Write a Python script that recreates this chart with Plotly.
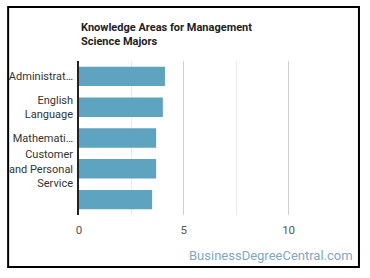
import plotly.graph_objects as go

categories = ["Administrative", "English Language", "Mathematics",
              "Customer and Personal Service", "Other"]
tick_labels = ["Administrat…", "English<br>Language", "Mathemati…",
               "Customer<br>and Personal<br>Service", ""]
values = [4.1, 4.0, 3.68, 3.68, 3.49]

W, H = 370, 278
L, R, T, B = 79, 341.5, 61, 215
pw, ph = R - L, B - T

def px(x):
    return (x - L) / pw

def py(y):
    return (B - y) / ph

fig = go.Figure(go.Bar(
    x=values, y=categories, orientation="h",
    marker=dict(color="#5ea3bf", line=dict(width=0)),
    width=0.63, hoverinfo="skip",
))

fig.update_layout(
    width=W, height=H,
    margin=dict(l=L, r=W - R, t=T, b=H - B, pad=0),
    paper_bgcolor="white", plot_bgcolor="white",
    font=dict(family="Roboto", size=12, color="#333333"),
    showlegend=False,
    xaxis=dict(range=[0, 12.5], tickvals=[0, 5, 10], ticktext=["0", "5", "10"],
               showgrid=True, gridcolor="#d0d0d0", gridwidth=1,
               minor=dict(tickvals=[2.5, 7.5], showgrid=True, gridcolor="#ebebeb", gridwidth=1),
               zeroline=False, showline=False, ticks="", automargin=False,
               ticklabelstandoff=6,
               tickfont=dict(size=11.5, color="#555555"), fixedrange=True),
    yaxis=dict(categoryorder="array", categoryarray=categories[::-1],
               tickvals=categories, ticktext=tick_labels,
               showgrid=False, zeroline=False, showline=True, linecolor="#222222", linewidth=1.5,
               ticks="", ticklabelstandoff=2, automargin=False,
               tickfont=dict(size=11, color="#333333"), fixedrange=True),
    shapes=[dict(type="rect", xref="paper", yref="paper",
                 x0=px(8), x1=px(359.5), y0=py(267), y1=py(7),
                 line=dict(color="black", width=2), fillcolor="rgba(0,0,0,0)")],
    annotations=[
        dict(text="<b>Knowledge Areas for Management<br>Science Majors</b>",
             xref="paper", yref="paper", x=0, y=py(19), xanchor="left", yanchor="top",
             align="left", showarrow=False,
             font=dict(family="Roboto", size=11, color="#222222")),
        dict(text="BusinessDegreeCentral.com", xref="paper", yref="paper",
             x=px(356), y=py(255), xanchor="right", yanchor="middle", showarrow=False,
             font=dict(family="Roboto", size=13, color="#7fa9c3")),
    ],
)

fig.write_html("out.html")
